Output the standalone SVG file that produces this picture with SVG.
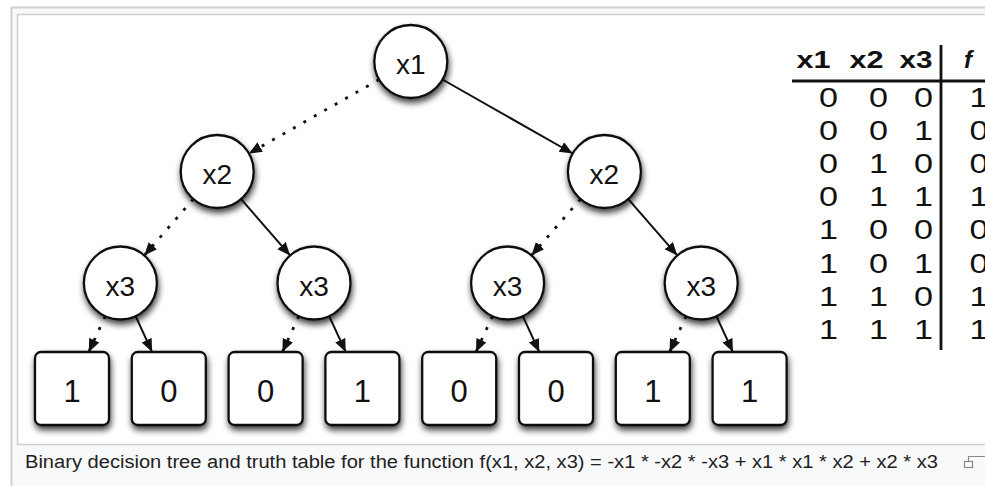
<svg xmlns="http://www.w3.org/2000/svg" width="985" height="486" viewBox="0 0 985 486">
  <style>
    .node circle { fill: #fff; stroke: #111; stroke-width: 2.3; filter: url(#shadow); }
    .node rect { fill: #fff; stroke: #111; stroke-width: 2.3; filter: url(#shadow); }
    .lbl { font-family: "Liberation Sans", Arial, sans-serif; font-size: 28px; fill: #111; text-anchor: middle; }
    .leaf text { font-family: "Liberation Sans", Arial, sans-serif; font-size: 31px; fill: #111; text-anchor: middle; }
    .edge { stroke: #111; stroke-width: 2; fill: none; marker-end: url(#arrow); }
    .dotted { stroke-width: 2.8; stroke-dasharray: 3 9; }
    .th { font-family: "Liberation Sans", Arial, sans-serif; font-size: 24px; font-weight: bold; fill: #111; text-anchor: middle; }
    .td { font-family: "Liberation Sans", Arial, sans-serif; font-size: 28px; fill: #111; text-anchor: middle; }
    .caption { font-family: "Liberation Sans", Arial, sans-serif; font-size: 18px; fill: #222; }
  </style>
  <defs>
    <filter id="shadow" x="-30%" y="-30%" width="160%" height="170%">
      <feDropShadow dx="1" dy="4" stdDeviation="3" flood-color="#000" flood-opacity="0.75"/>
    </filter>
    <marker id="arrow" markerUnits="userSpaceOnUse" markerWidth="15" markerHeight="12" refX="13" refY="5.5" orient="auto">
      <path d="M0,0 L13,5.5 L0,11 z" fill="#111"/>
    </marker>
  </defs>

  <!-- thumbnail frame -->
  <rect x="0" y="0" width="985" height="486" fill="#fff"/>
  <rect x="11.5" y="7.5" width="990" height="490" fill="#f8f9fa" stroke="#cfcfcf" stroke-width="2"/>
  <rect x="17.5" y="14.5" width="980" height="430" fill="#fff" stroke="#cfcfcf" stroke-width="1.5"/>

  <!-- connectors: dotted = low branch, solid = high branch -->
  <g id="edges">
    <line class="edge dotted" x1="379.1" y1="79.5" x2="248.9" y2="153.5"/>
    <line class="edge" x1="442.5" y1="79.5" x2="572.7" y2="153.5"/>
    <line class="edge dotted" x1="193.3" y1="199.1" x2="144.3" y2="255.4"/>
    <line class="edge" x1="241.1" y1="199.1" x2="290.1" y2="255.4"/>
    <line class="edge dotted" x1="580.5" y1="199.1" x2="531.5" y2="255.4"/>
    <line class="edge" x1="628.3" y1="199.1" x2="677.3" y2="255.4"/>
    <line class="edge dotted" x1="105.2" y1="316.2" x2="88.8" y2="352"/>
    <line class="edge" x1="135.6" y1="316.2" x2="152.1" y2="352"/>
    <line class="edge dotted" x1="298.8" y1="316.2" x2="282.4" y2="352"/>
    <line class="edge" x1="329.2" y1="316.2" x2="345.7" y2="352"/>
    <line class="edge dotted" x1="492.4" y1="316.2" x2="476" y2="352"/>
    <line class="edge" x1="522.8" y1="316.2" x2="539.3" y2="352"/>
    <line class="edge dotted" x1="686" y1="316.2" x2="669.6" y2="352"/>
    <line class="edge" x1="716.4" y1="316.2" x2="732.9" y2="352"/>
  </g>

  <!-- decision nodes -->
  <g id="n-x1" class="node"><circle cx="410.8" cy="61.5" r="36.5"/><text class="lbl" x="410.8" y="74">x1</text></g>
  <g id="n-x2a" class="node"><circle cx="217.2" cy="171.5" r="36.5"/><text class="lbl" x="217.2" y="184">x2</text></g>
  <g id="n-x2b" class="node"><circle cx="604.4" cy="171.5" r="36.5"/><text class="lbl" x="604.4" y="184">x2</text></g>
  <g id="n-x3a" class="node"><circle cx="120.4" cy="283" r="36.5"/><text class="lbl" x="120.4" y="295.5">x3</text></g>
  <g id="n-x3b" class="node"><circle cx="314" cy="283" r="36.5"/><text class="lbl" x="314" y="295.5">x3</text></g>
  <g id="n-x3c" class="node"><circle cx="507.6" cy="283" r="36.5"/><text class="lbl" x="507.6" y="295.5">x3</text></g>
  <g id="n-x3d" class="node"><circle cx="701.2" cy="283" r="36.5"/><text class="lbl" x="701.2" y="295.5">x3</text></g>

  <!-- terminal nodes -->
  <g id="leaf-1" class="node leaf"><rect x="35" y="352" width="74" height="73" rx="6"/><text x="72" y="402">1</text></g>
  <g id="leaf-2" class="node leaf"><rect x="131.8" y="352" width="74" height="73" rx="6"/><text x="168.8" y="402">0</text></g>
  <g id="leaf-3" class="node leaf"><rect x="228.6" y="352" width="74" height="73" rx="6"/><text x="265.6" y="402">0</text></g>
  <g id="leaf-4" class="node leaf"><rect x="325.4" y="352" width="74" height="73" rx="6"/><text x="362.4" y="402">1</text></g>
  <g id="leaf-5" class="node leaf"><rect x="422.2" y="352" width="74" height="73" rx="6"/><text x="459.2" y="402">0</text></g>
  <g id="leaf-6" class="node leaf"><rect x="519" y="352" width="74" height="73" rx="6"/><text x="556" y="402">0</text></g>
  <g id="leaf-7" class="node leaf"><rect x="615.8" y="352" width="74" height="73" rx="6"/><text x="652.8" y="402">1</text></g>
  <g id="leaf-8" class="node leaf"><rect x="712.6" y="352" width="74" height="73" rx="6"/><text x="749.6" y="402">1</text></g>

  <!-- truth table -->
  <g id="truth-table">
    <line x1="792" y1="81" x2="985" y2="81" stroke="#111" stroke-width="3"/>
    <line x1="941" y1="45" x2="941" y2="350" stroke="#111" stroke-width="2.8"/>
    <text class="th" x="813.5" y="68" textLength="34" lengthAdjust="spacingAndGlyphs">x1</text>
    <text class="th" x="866.5" y="68" textLength="34" lengthAdjust="spacingAndGlyphs">x2</text>
    <text class="th" x="916" y="68" textLength="33" lengthAdjust="spacingAndGlyphs">x3</text>
    <text class="th" x="968" y="68" font-style="italic">f</text>
    <g class="td">
      <text x="828.5" y="107" textLength="19" lengthAdjust="spacingAndGlyphs">0</text><text x="878.5" y="107" textLength="19" lengthAdjust="spacingAndGlyphs">0</text><text x="923.5" y="107" textLength="19" lengthAdjust="spacingAndGlyphs">0</text><text x="979" y="107" textLength="19" lengthAdjust="spacingAndGlyphs">1</text>
      <text x="828.5" y="140.1" textLength="19" lengthAdjust="spacingAndGlyphs">0</text><text x="878.5" y="140.1" textLength="19" lengthAdjust="spacingAndGlyphs">0</text><text x="923.5" y="140.1" textLength="19" lengthAdjust="spacingAndGlyphs">1</text><text x="979" y="140.1" textLength="19" lengthAdjust="spacingAndGlyphs">0</text>
      <text x="828.5" y="173.2" textLength="19" lengthAdjust="spacingAndGlyphs">0</text><text x="878.5" y="173.2" textLength="19" lengthAdjust="spacingAndGlyphs">1</text><text x="923.5" y="173.2" textLength="19" lengthAdjust="spacingAndGlyphs">0</text><text x="979" y="173.2" textLength="19" lengthAdjust="spacingAndGlyphs">0</text>
      <text x="828.5" y="206.3" textLength="19" lengthAdjust="spacingAndGlyphs">0</text><text x="878.5" y="206.3" textLength="19" lengthAdjust="spacingAndGlyphs">1</text><text x="923.5" y="206.3" textLength="19" lengthAdjust="spacingAndGlyphs">1</text><text x="979" y="206.3" textLength="19" lengthAdjust="spacingAndGlyphs">1</text>
      <text x="828.5" y="239.4" textLength="19" lengthAdjust="spacingAndGlyphs">1</text><text x="878.5" y="239.4" textLength="19" lengthAdjust="spacingAndGlyphs">0</text><text x="923.5" y="239.4" textLength="19" lengthAdjust="spacingAndGlyphs">0</text><text x="979" y="239.4" textLength="19" lengthAdjust="spacingAndGlyphs">0</text>
      <text x="828.5" y="272.5" textLength="19" lengthAdjust="spacingAndGlyphs">1</text><text x="878.5" y="272.5" textLength="19" lengthAdjust="spacingAndGlyphs">0</text><text x="923.5" y="272.5" textLength="19" lengthAdjust="spacingAndGlyphs">1</text><text x="979" y="272.5" textLength="19" lengthAdjust="spacingAndGlyphs">0</text>
      <text x="828.5" y="305.6" textLength="19" lengthAdjust="spacingAndGlyphs">1</text><text x="878.5" y="305.6" textLength="19" lengthAdjust="spacingAndGlyphs">1</text><text x="923.5" y="305.6" textLength="19" lengthAdjust="spacingAndGlyphs">0</text><text x="979" y="305.6" textLength="19" lengthAdjust="spacingAndGlyphs">1</text>
      <text x="828.5" y="338.7" textLength="19" lengthAdjust="spacingAndGlyphs">1</text><text x="878.5" y="338.7" textLength="19" lengthAdjust="spacingAndGlyphs">1</text><text x="923.5" y="338.7" textLength="19" lengthAdjust="spacingAndGlyphs">1</text><text x="979" y="338.7" textLength="19" lengthAdjust="spacingAndGlyphs">1</text>
    </g>
  </g>

  <!-- caption -->
  <text class="caption" x="25" y="468" textLength="913" lengthAdjust="spacingAndGlyphs">Binary decision tree and truth table for the function f(x1, x2, x3) = -x1 * -x2 * -x3 + x1 * x1 * x2 + x2 * x3</text>
  <g id="enlarge-icon" fill="none" stroke="#888" stroke-width="1.2">
    <rect x="964.5" y="461.5" width="8" height="6"/>
    <path d="M968.5,461.5 V456.5 H985"/>
  </g>
</svg>
